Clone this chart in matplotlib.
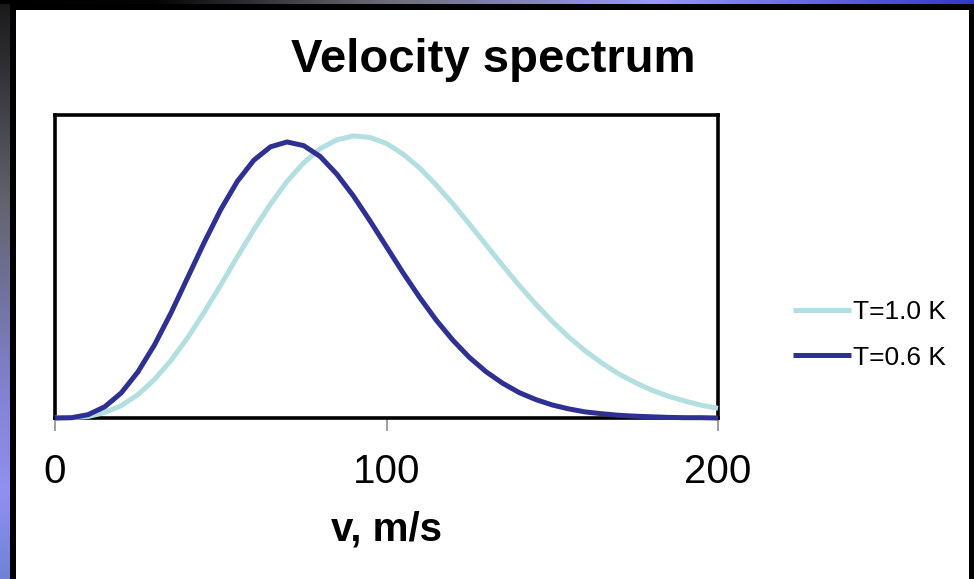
import matplotlib
matplotlib.use('Agg')
import matplotlib.pyplot as plt
from matplotlib.patches import Rectangle
from matplotlib.colors import LinearSegmentedColormap
import numpy as np

plt.rcParams['font.family'] = ['Liberation Sans', 'DejaVu Sans']

# velocity grid (m/s) and the two spectra (arb. units, axis top = 1)
v = [0, 5, 10, 15, 20, 25, 30, 35, 40, 45, 50, 55, 60, 65, 70, 75, 80, 85, 90, 95, 100,
     105, 110, 115, 120, 125, 130, 135, 140, 145, 150, 155, 160, 165, 170, 175, 180,
     185, 190, 195, 200]
spec_10K = [0, 0.001, 0.005, 0.018, 0.041, 0.077, 0.127, 0.190, 0.265, 0.349, 0.439,
            0.532, 0.622, 0.706, 0.781, 0.842, 0.889, 0.918, 0.931, 0.926, 0.906,
            0.871, 0.825, 0.769, 0.707, 0.640, 0.572, 0.504, 0.438, 0.376, 0.319,
            0.267, 0.221, 0.181, 0.146, 0.117, 0.092, 0.072, 0.056, 0.042, 0.032]
spec_06K = [0, 0.001, 0.011, 0.037, 0.083, 0.152, 0.241, 0.347, 0.463, 0.579, 0.688,
            0.781, 0.851, 0.895, 0.911, 0.899, 0.863, 0.805, 0.733, 0.651, 0.565,
            0.479, 0.398, 0.323, 0.257, 0.200, 0.153, 0.115, 0.084, 0.061, 0.043,
            0.030, 0.020, 0.014, 0.009, 0.006, 0.004, 0.002, 0.001, 0.001, 0.000]
labels = ['T=1.0 K', 'T=0.6 K']
colors = ['#b3dfe1', '#2e3192']
xticks = [0, 100, 200]

W, H = 974, 579
fig = plt.figure(figsize=(W / 100, H / 100), dpi=100, facecolor='black')

# slide background: gradient strips, black frame, white panel
bg = fig.add_axes([0, 0, 1, 1])
bg.axis('off')
top_cmap = LinearSegmentedColormap.from_list('top', [(0, '#000000'), (0.16, '#050505'),
                                                     (0.4, '#6e6e78'), (0.67, '#9898ff'),
                                                     (1, '#3038c8')])
left_cmap = LinearSegmentedColormap.from_list('left', [(0, '#1a1a1a'), (0.35, '#646470'),
                                                       (0.7, '#8484d8'), (0.85, '#9090f0'),
                                                       (1, '#6f82d8')])
grad = np.linspace(0, 1, 256)
bg.imshow(grad[None, :], cmap=top_cmap, extent=(0, W, 4, 0), aspect='auto')
bg.imshow(grad[:, None], cmap=left_cmap, extent=(0, 10, H, 4), aspect='auto')
bg.add_patch(Rectangle((16, 10), 953, H - 10, facecolor='white', edgecolor='none'))
bg.set_xlim(0, W)
bg.set_ylim(H, 0)

ax = fig.add_axes([55 / W, 1 - 418 / H, (718 - 55) / W, (418 - 115) / H])
ax.set_facecolor('white')
for y, lab, c in zip([spec_10K, spec_06K], labels, colors):
    ax.plot(v, y, color=c, lw=3.6, label=lab, zorder=3, clip_on=False,
            solid_capstyle='butt', solid_joinstyle='round')

ax.set_xlim(0, 200)
ax.set_ylim(0, 1)
ax.set_xticks(xticks)
ax.set_yticks([])
ax.tick_params(axis='x', direction='out', length=9, width=1.2, color='#8c8c8c',
               labelsize=29, pad=16)
for s in ax.spines.values():
    s.set_linewidth(2.6)
    s.set_color('black')
ax.set_xlabel('v, m/s', fontsize=29, fontweight='bold', labelpad=14)

fig.text(493 / W, 1 - 72 / H, 'Velocity spectrum', fontsize=34, fontweight='bold',
         ha='center', va='baseline')

h, l = ax.get_legend_handles_labels()
fig.legend(h, l, loc='center left', bbox_to_anchor=(793 / W, 1 - 335 / H),
           frameon=False, fontsize=19, handlelength=2.2, handletextpad=0.08,
           labelspacing=0.8, borderpad=0, borderaxespad=0)

fig.savefig('out.png', dpi=100, facecolor='black')
